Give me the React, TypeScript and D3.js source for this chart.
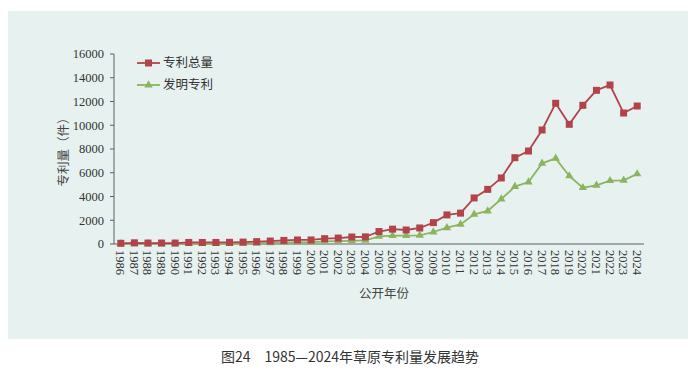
import React from 'react';
import * as d3 from 'd3';

const years = [
  '1986', '1987', '1988', '1989', '1990', '1991', '1992', '1993', '1994', '1995',
  '1996', '1997', '1998', '1999', '2000', '2001', '2002', '2003', '2004', '2005',
  '2006', '2007', '2008', '2009', '2010', '2011', '2012', '2013', '2014', '2015',
  '2016', '2017', '2018', '2019', '2020', '2021', '2022', '2023', '2024',
];

// 专利总量
const totalPatents = [
  60, 100, 80, 80, 80, 130, 130, 130, 140, 160,
  200, 250, 300, 340, 340, 450, 500, 590, 600, 1050,
  1250, 1180, 1350, 1800, 2450, 2600, 3880, 4600, 5560, 7270,
  7830, 9600, 11850, 10080, 11680, 12940, 13390, 11030, 11620,
];

// 发明专利
const inventionPatents = [
  10, 20, 20, 20, 20, 30, 30, 30, 40, 50,
  60, 100, 120, 150, 130, 220, 250, 270, 300, 650,
  700, 700, 730, 1010, 1370, 1650, 2500, 2780, 3790, 4830,
  5220, 6790, 7210, 5730, 4740, 4940, 5330, 5360, 5900,
];

const yTicks = [0, 2000, 4000, 6000, 8000, 10000, 12000, 14000, 16000];

const RED = '#b3434a';
const GREEN = '#8cb45e';
const AXIS = '#5a5f60';
const serif = '"Liberation Serif", "DejaVu Serif", serif';
const cjk = '"Noto Sans CJK SC", sans-serif';

const margin = { top: 54, left: 114, right: 56, bottom: 131 };
const W = 700;
const H = 375;

const App = () => {
  const x = d3
    .scalePoint<string>()
    .domain(years)
    .range([margin.left, W - margin.right])
    .padding(0.5);
  const y = d3.scaleLinear().domain([0, 16000]).range([H - margin.bottom, margin.top]);

  const line = d3
    .line<number>()
    .x((_, i) => x(years[i]) as number)
    .y((d) => y(d));

  const tri = d3.symbol().type(d3.symbolTriangle).size(30)();

  return (
    <svg
      width={W}
      height={H}
      style={{ position: 'fixed', left: 0, top: 0, background: '#ffffff' }}
    >
      <rect x={8} y={11} width={680} height={328} fill='#e7f2f0' />

      {/* y axis */}
      <line x1={margin.left} x2={margin.left} y1={y(16000)} y2={y(0)} stroke={AXIS} strokeWidth={1} />
      {yTicks.map((t) => (
        <g key={t} transform={`translate(${margin.left},${y(t)})`}>
          <line x1={-4} x2={0} stroke={AXIS} />
          <text x={-10} dy='0.35em' textAnchor='end' fontFamily={serif} fontSize={12.5} fill='#333'>
            {t}
          </text>
        </g>
      ))}

      {/* x axis */}
      <line x1={margin.left} x2={W - margin.right} y1={y(0)} y2={y(0)} stroke={AXIS} strokeWidth={1.2} />
      {years.map((yr) => (
        <text
          key={yr}
          transform={`translate(${(x(yr) as number) - 4.5},${y(0) + 6}) rotate(90)`}
          textAnchor='start'
          fontFamily={serif}
          fontSize={12.5}
          fill='#333'
        >
          {yr}
        </text>
      ))}

      <text x={384} y={298} textAnchor='middle' fontFamily={cjk} fontSize={12.5} fill='#444'>
        公开年份
      </text>
      <text
        transform={`translate(68,${(y(0) + y(16000)) / 2}) rotate(-90)`}
        textAnchor='middle'
        fontFamily={cjk}
        fontSize={12.5}
        fill='#444'
      >
        专利量（件）
      </text>

      {/* series */}
      <path d={line(inventionPatents) as string} fill='none' stroke={GREEN} strokeWidth={1.8} />
      {inventionPatents.map((v, i) => (
        <path key={i} d={tri as string} transform={`translate(${x(years[i])},${y(v)})`} fill={GREEN} />
      ))}
      <path d={line(totalPatents) as string} fill='none' stroke={RED} strokeWidth={1.8} />
      {totalPatents.map((v, i) => (
        <rect key={i} x={(x(years[i]) as number) - 3.5} y={y(v) - 3.5} width={7} height={7} fill={RED} />
      ))}

      {/* legend */}
      <g transform='translate(137,63)'>
        <line x1={0} x2={23} stroke={RED} strokeWidth={1.8} />
        <rect x={8} y={-3.5} width={7} height={7} fill={RED} />
        <text x={26} dy='0.35em' fontFamily={cjk} fontSize={12.5} fill='#333'>
          专利总量
        </text>
      </g>
      <g transform='translate(137,85)'>
        <line x1={0} x2={23} stroke={GREEN} strokeWidth={1.8} />
        <path d={tri as string} transform='translate(11.5,0)' fill={GREEN} />
        <text x={26} dy='0.35em' fontFamily={cjk} fontSize={12.5} fill='#333'>
          发明专利
        </text>
      </g>

      <text x={350} y={362} textAnchor='middle' fontFamily={cjk} fontSize={14} fill='#333'>
        图24　1985—2024年草原专利量发展趋势
      </text>
    </svg>
  );
};

export default App;
